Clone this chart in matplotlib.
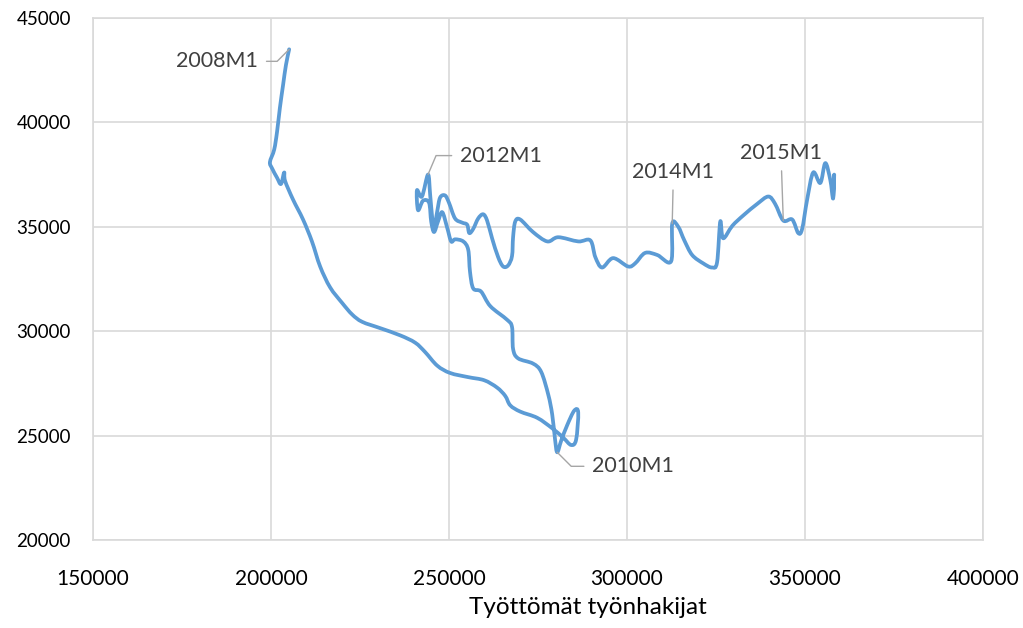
import matplotlib
matplotlib.use("Agg")
import matplotlib.pyplot as plt
import numpy as np
from matplotlib.path import Path
from matplotlib.patches import PathPatch

plt.rcParams['font.family'] = ['Lato', 'DejaVu Sans']

# Unemployed job seekers (x) and open vacancies (y)
unemployed = [
    205100, 204200, 203400, 202500, 201700, 200900, 199700, 200300, 201700, 202800,
    203700, 203950, 206200, 209000, 211500, 213800, 216600, 220000, 222800, 225600,
    230600, 236300, 240500, 243300, 246700, 250300, 255400, 259900, 263500, 265800,
    267200, 270000, 274800, 279000, 282100, 284300, 285700, 286300, 285200, 283200,
    281500, 280400,
    279800, 279000, 277900, 275900, 273600, 269400, 268000, 267700, 266300, 261600,
    259000, 256800, 255900, 255400, 254000, 251700, 250600, 249500, 248100, 246900,
    245800, 245000, 244400, 242700, 241300, 241000, 242400, 244100,
    244700, 245300, 245800, 246700, 247500, 248900, 250000, 251700, 253700, 255100,
    255700, 256800, 258200, 259600, 260700, 262100, 263800, 265200, 266600, 267700,
    268000, 268600, 270000, 273600, 277600, 280700, 286300, 289700, 291100, 293000,
    296100, 300300, 302300, 305100, 308500, 312400, 312700, 314400, 316100, 318300,
    321400, 323900, 325300, 326200, 327000, 329600, 332700, 336600, 339700, 341600,
    343900, 346400, 348100, 349200, 350600, 352300, 354300, 355700, 357100, 357900,
    358200, 357900,
]
vacancies = [
    43500, 42750, 41800, 40700, 39550, 38700, 38100, 37800, 37350, 37050,
    37600, 37200, 36300, 35350, 34300, 33100, 32100, 31350, 30800, 30450,
    30150, 29800, 29450, 29000, 28350, 28000, 27800, 27650, 27300, 26900,
    26450, 26150, 25850, 25350, 24900, 24550, 24800, 26100, 26200, 25500,
    24750, 24200,
    24800, 26000, 26950, 28050, 28450, 28700, 29150, 30200, 30550, 31200,
    31900, 32050, 32850, 33900, 34300, 34400, 34300, 34950, 35700, 35250,
    34750, 35250, 36150, 36250, 35800, 36750, 36450, 37500,
    36550, 35400, 34900, 35750, 36400, 36500, 36150, 35400, 35200, 35100,
    34700, 34900, 35400, 35600, 35300, 34450, 33550, 33100, 33150, 33600,
    34500, 35250, 35350, 34750, 34300, 34500, 34300, 34350, 33550, 33050,
    33500, 33100, 33250, 33750, 33650, 33350, 35150, 35000, 34350, 33650,
    33250, 33050, 33300, 35250, 34450, 35050, 35550, 36100, 36450, 36100,
    35300, 35350, 34700, 34900, 36300, 37600, 37100, 38050, 37250, 36350,
    37500, 36500,
]

# Labelled points: (label, index into the series)
labels = ["2008M1", "2010M1", "2012M1", "2014M1", "2015M1"]
label_idx = [0, 41, 69, 106, 120]

x_ticks = [150000, 200000, 250000, 300000, 350000, 400000]
y_ticks = [20000, 25000, 30000, 35000, 40000, 45000]
x_title = "Työttömät työnhakijat"

fig = plt.figure(figsize=(10.23, 6.28), dpi=100)
ax = fig.add_axes([93/1023, 1-540/628, 890/1023, 522/628])

line_color = "#5b9bd5"
grid_color = "#d9d9d9"
text_color = "#404040"
leader_color = "#a6a6a6"


def smooth_path(xs, ys, tension=0.5):
    """Excel-like smoothed line: cubic Bezier segments through every data point."""
    P = np.column_stack([xs, ys]).astype(float)
    n = len(P)
    verts = [P[0]]
    codes = [Path.MOVETO]
    k = tension / 3.0
    for i in range(n - 1):
        p0 = P[i - 1] if i > 0 else P[i]
        p1, p2 = P[i], P[i + 1]
        p3 = P[i + 2] if i + 2 < n else P[i + 1]
        c1 = p1 + (p2 - p0) * k
        c2 = p2 - (p3 - p1) * k
        verts += [c1, c2, p2]
        codes += [Path.CURVE4] * 3
    return Path(verts, codes)


patch = PathPatch(smooth_path(unemployed, vacancies), facecolor='none',
                  edgecolor=line_color, lw=2.7, joinstyle='round',
                  capstyle='round', transform=ax.transData, zorder=3)
ax.add_patch(patch)

ax.set_xlim(x_ticks[0], x_ticks[-1])
ax.set_ylim(y_ticks[0], y_ticks[-1])
ax.set_xticks(x_ticks)
ax.set_yticks(y_ticks)
ax.set_xticklabels([str(v) for v in x_ticks])
ax.set_yticklabels([str(v) for v in y_ticks])
ax.grid(True, color=grid_color, lw=1.2, zorder=0)
for s in ax.spines.values():
    s.set_color(grid_color)
    s.set_linewidth(1.2)
ax.tick_params(axis='both', length=0, labelcolor='black')
ax.tick_params(axis='y', pad=16, labelsize=13.5)
ax.tick_params(axis='x', pad=21, labelsize=15)

fig.text(588/1023, 1-608/628, x_title, ha='center', va='center',
         fontsize=17.5, color='black')

# Annotation offsets in pixels (text anchor relative to labelled point)
ann_specs = {
    "2008M1": dict(off=(-31, -12), ha='right', va='center',
                   cs="angle,angleA=0,angleB=45,rad=0", rel=(1.0, 0.5)),
    "2010M1": dict(off=(35, -14), ha='left', va='center',
                   cs="angle,angleA=0,angleB=-45,rad=0", rel=(0.0, 0.5)),
    "2012M1": dict(off=(32, 19), ha='left', va='center',
                   cs="angle,angleA=0,angleB=67,rad=0", rel=(0.0, 0.5)),
    "2014M1": dict(off=(1, 52), ha='center', va='center',
                   cs="arc3,rad=0", rel=(0.5, 0.0)),
    "2015M1": dict(off=(-2, 68), ha='center', va='center',
                   cs="arc3,rad=0", rel=(0.5, 0.0)),
}
for lab, i in zip(labels, label_idx):
    sp = ann_specs[lab]
    ax.annotate(lab, xy=(unemployed[i], vacancies[i]), xycoords='data',
                xytext=sp['off'], textcoords='offset pixels',
                ha=sp['ha'], va=sp['va'], fontsize=15.5, color=text_color,
                arrowprops=dict(arrowstyle='-', color=leader_color, lw=1.0,
                                shrinkA=4, shrinkB=0,
                                connectionstyle=sp['cs'],
                                relpos=sp['rel']),
                zorder=4)

fig.savefig("out.png", dpi=100)
